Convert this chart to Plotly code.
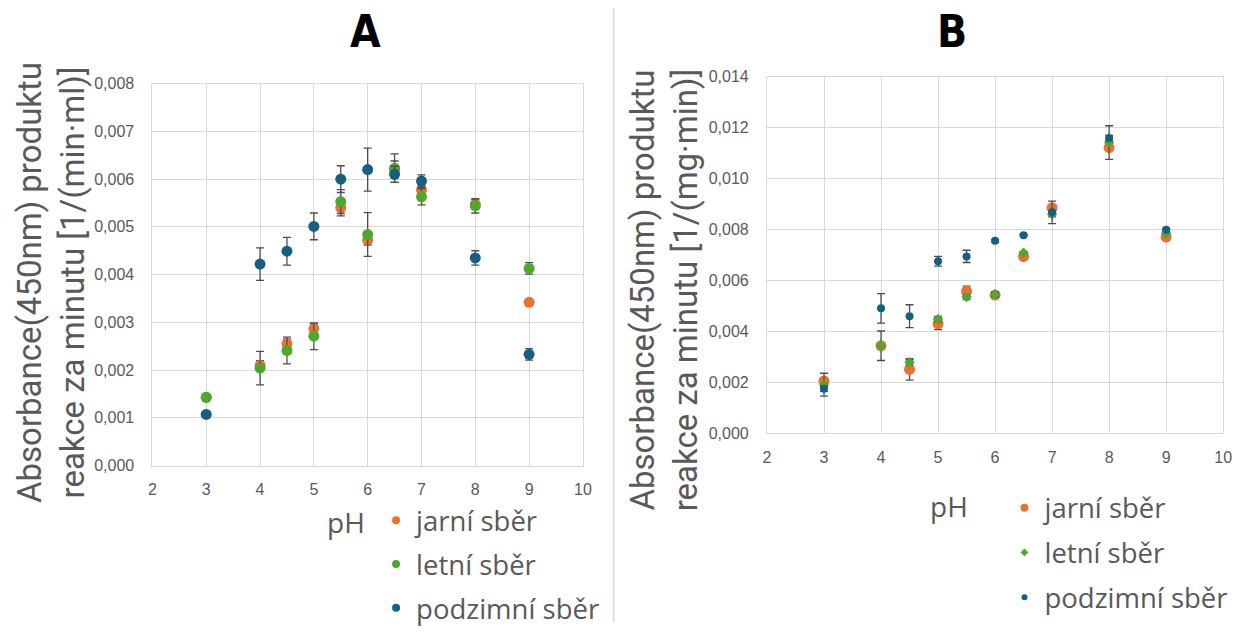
import plotly.graph_objects as go

W, H = 1249, 633

# ---------------- data: panel A ----------------
ph_a = [3, 4, 4.5, 5, 5.5, 6, 6.5, 7, 8, 9]
jarni_a = [0.00143, 0.00210, 0.00255, 0.00287, 0.00540, 0.00472, 0.00620, 0.00577, 0.00547, 0.00342]
jarni_a_err = [0.00000, 0.00010, 0.00010, 0.00010, 0.00017, 0.00010, 0.00018, 0.00010, 0.00010, 0.00000]
letni_a = [0.00143, 0.00204, 0.00241, 0.00271, 0.00553, 0.00484, 0.00623, 0.00563, 0.00544, 0.00413]
letni_a_err = [0.00000, 0.00035, 0.00028, 0.00028, 0.00025, 0.00046, 0.00030, 0.00017, 0.00015, 0.00012]
podzim_a = [0.00107, 0.00422, 0.00449, 0.00501, 0.00600, 0.00620, 0.00610, 0.00596, 0.00435, 0.00233]
podzim_a_err = [0.00000, 0.00034, 0.00029, 0.00028, 0.00028, 0.00045, 0.00017, 0.00013, 0.00015, 0.00012]

# ---------------- data: panel B ----------------
ph_b = [3, 4, 4.5, 5, 5.5, 6, 6.5, 7, 8, 9]
jarni_b = [0.00206, 0.00344, 0.00251, 0.00430, 0.00558, 0.00543, 0.00694, 0.00886, 0.01122, 0.00771]
jarni_b_err = [0.00010, 0.00010, 0.00042, 0.00023, 0.00020, 0.00010, 0.00005, 0.00010, 0.00010, 0.00005]
letni_b = [0.00191, 0.00344, 0.00279, 0.00449, 0.00535, 0.00545, 0.00709, 0.00860, 0.01142, 0.00786]
letni_b_err = [0.00045, 0.00058, 0.00010, 0.00010, 0.00010, 0.00010, 0.00005, 0.00010, 0.00066, 0.00005]
podzim_b = [0.00175, 0.00491, 0.00460, 0.00676, 0.00695, 0.00756, 0.00778, 0.00868, 0.01160, 0.00800]
podzim_b_err = [0.00010, 0.00058, 0.00045, 0.00019, 0.00024, 0.00005, 0.00003, 0.00044, 0.00010, 0.00005]

names = ["jarní sběr", "letní sběr", "podzimní sběr"]
colors = ["#E97132", "#4EA72E", "#156082"]

x_ticks = [2, 3, 4, 5, 6, 7, 8, 9, 10]
y_ticks_a = [0, 0.001, 0.002, 0.003, 0.004, 0.005, 0.006, 0.007, 0.008]
y_ticks_b = [0, 0.002, 0.004, 0.006, 0.008, 0.010, 0.012, 0.014]

title_a = "A"
title_b = "B"
ytitle_a = "Absorbance(450nm) produktu<br>reakce za minutu [1/(min·ml)]"
ytitle_b = "Absorbance(450nm) produktu<br>reakce za minutu [1/(mg·min)]"
xtitle = "pH"

TXT = "#595959"
GRID = "#D9D9D9"
ERRC = "#4D4D4D"
FONT = "Roboto, Open Sans, sans-serif"
LEGFONT = "Open Sans, Roboto, sans-serif"
TICKFONT = "Liberation Sans, Arial, sans-serif"
TITLEFONT = "Liberation Sans Narrow, DejaVu Sans Condensed, Arial Narrow, sans-serif"

fig = go.Figure()

def err(vals):
    return dict(type="data", array=vals, color=ERRC, thickness=1.3, width=4, visible=True)

# panel A traces
for vals, e, nm, col in zip([jarni_a, letni_a, podzim_a], [jarni_a_err, letni_a_err, podzim_a_err], names, colors):
    fig.add_trace(go.Scatter(x=ph_a, y=vals, mode="markers", error_y=err(e),
                             marker=dict(color=col, size=11, symbol="circle"),
                             name=nm, showlegend=False, xaxis="x", yaxis="y"))
# legend entries for A
for i, (nm, col) in enumerate(zip(names, colors)):
    fig.add_trace(go.Scatter(x=[None], y=[None], mode="markers",
                             marker=dict(color=col, size=8, symbol="circle"),
                             name=nm, legend="legend", legendgroup="a%d" % i,
                             xaxis="x", yaxis="y"))

# panel B traces
sym_b = ["circle", "diamond", "circle"]
size_b = [11, 8, 8]
for vals, e, nm, col, sy, sz in zip([jarni_b, letni_b, podzim_b], [jarni_b_err, letni_b_err, podzim_b_err],
                                    names, colors, sym_b, size_b):
    fig.add_trace(go.Scatter(x=ph_b, y=vals, mode="markers", error_y=err(e),
                             marker=dict(color=col, size=sz, symbol=sy),
                             name=nm, showlegend=False, xaxis="x2", yaxis="y2"))
leg_size_b = [8, 6, 6]
for i, (nm, col, sy, sz) in enumerate(zip(names, colors, sym_b, leg_size_b)):
    fig.add_trace(go.Scatter(x=[None], y=[None], mode="markers",
                             marker=dict(color=col, size=sz, symbol=sy),
                             name=nm, legend="legend2", legendgroup="b%d" % i,
                             xaxis="x2", yaxis="y2"))

def px_x(p):
    return p / W

def px_y(p):
    return 1 - p / H

axis_common = dict(showgrid=True, gridcolor=GRID, gridwidth=1, zeroline=False,
                   showline=True, linecolor=GRID, linewidth=1, mirror=True,
                   ticks="", tickfont=dict(family=TICKFONT, size=16, color=TXT))

fig.update_layout(
    width=W, height=H, autosize=False,
    margin=dict(l=0, r=0, t=0, b=0, pad=0),
    paper_bgcolor="white", plot_bgcolor="white",
    separators=", ",
    showlegend=True,
    xaxis=dict(domain=[px_x(150), px_x(585)], range=[2, 10], tickvals=x_ticks,
               anchor="y", ticklabelstandoff=9, **axis_common),
    yaxis=dict(domain=[px_y(471.7), px_y(78)], range=[0, 0.008], tickvals=y_ticks_a,
               tickformat=".3f", anchor="x", ticklabelstandoff=14, **axis_common),
    xaxis2=dict(domain=[px_x(771), px_x(1232)], range=[2, 10], tickvals=x_ticks,
                anchor="y2", ticklabelstandoff=9, **axis_common),
    yaxis2=dict(domain=[px_y(438.5), px_y(71)], range=[0, 0.014], tickvals=y_ticks_b,
                tickformat=".3f", anchor="x2", ticklabelstandoff=14, **axis_common),
    legend=dict(x=px_x(376), y=px_y(503), xanchor="left", yanchor="top",
                font=dict(family=LEGFONT, size=27.5, color=TXT), bgcolor="rgba(0,0,0,0)",
                traceorder="grouped", tracegroupgap=5, itemclick=False, itemdoubleclick=False),
    legend2=dict(x=px_x(1011), y=px_y(490), xanchor="left", yanchor="top",
                 font=dict(family=LEGFONT, size=27.5, color=TXT), bgcolor="rgba(0,0,0,0)",
                 traceorder="grouped", tracegroupgap=6, itemclick=False, itemdoubleclick=False),
)

ann = [
    dict(text=title_a, x=px_x(365), y=px_y(24), font=dict(family=TITLEFONT, size=44, color="black", weight="bold")),
    dict(text=title_b, x=px_x(958), y=px_y(24), font=dict(family=TITLEFONT, size=44, color="black", weight="bold")),
    dict(text=ytitle_a, x=px_x(47), y=px_y(283), textangle=-90, font=dict(family=FONT, size=33, color=TXT)),
    dict(text=ytitle_b, x=px_x(667), y=px_y(291), textangle=-90, font=dict(family=FONT, size=33, color=TXT)),
    dict(text=xtitle, x=px_x(346), y=px_y(530), font=dict(family=LEGFONT, size=28, color=TXT)),
    dict(text=xtitle, x=px_x(955), y=px_y(513), font=dict(family=LEGFONT, size=28, color=TXT)),
]
for a in ann:
    fig.add_annotation(xref="paper", yref="paper", showarrow=False,
                       xanchor="center", yanchor="middle", **a)

fig.add_shape(type="line", xref="paper", yref="paper", x0=px_x(616), x1=px_x(616), y0=0, y1=1,
              line=dict(color=GRID, width=1.5))

fig.write_html("out.html")
